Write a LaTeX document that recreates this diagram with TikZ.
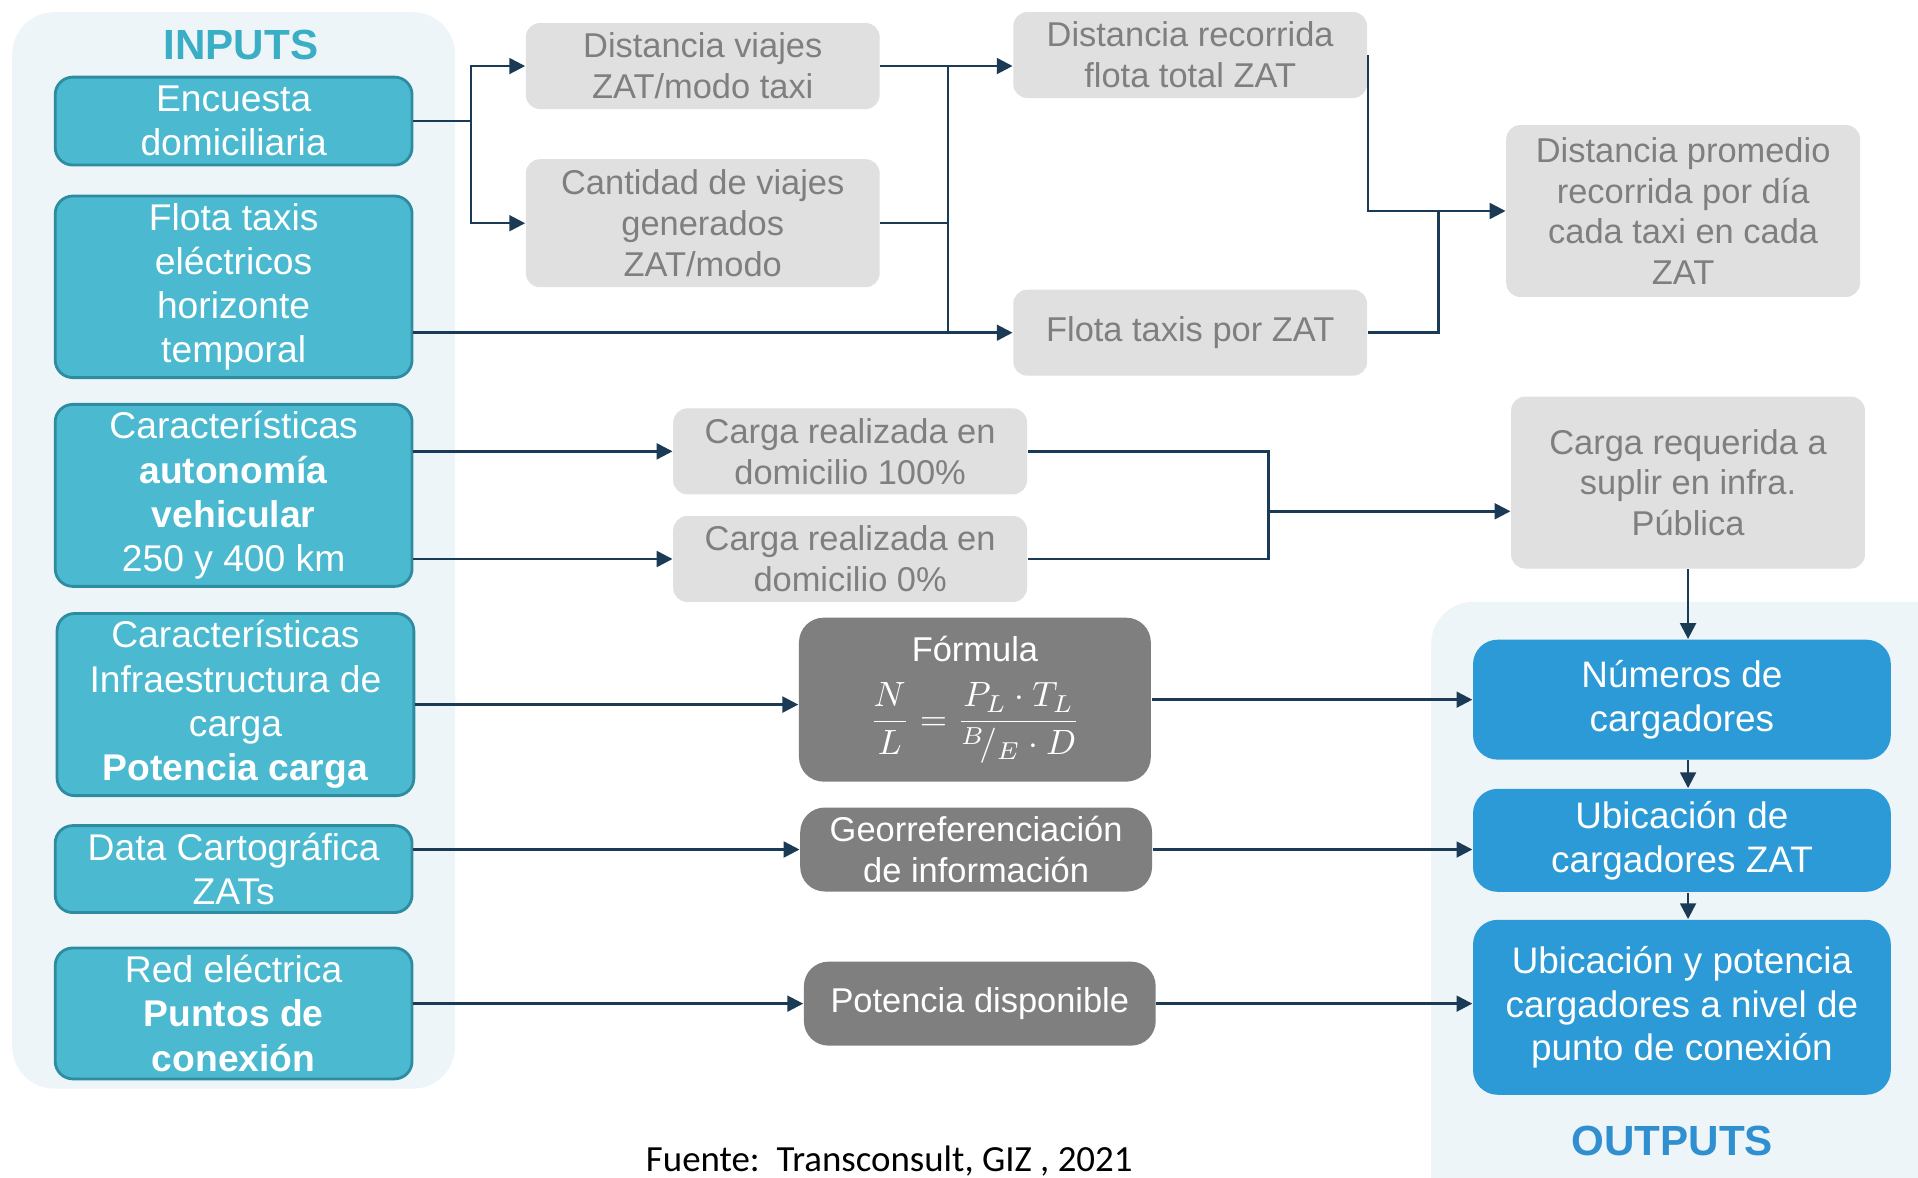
\documentclass[tikz,border=0pt]{standalone}
\usepackage{amsmath}
\usepackage{fontspec}
\setmainfont{Liberation Sans}
\newfontfamily\fuentefont{Carlito}
\usetikzlibrary{arrows.meta, positioning}
\definecolor{inputcyan}{HTML}{4BB9CF}
\definecolor{inputedge}{HTML}{2E8CA0}
\definecolor{inputtitle}{HTML}{3AAEC5}
\definecolor{outputblue}{HTML}{2B9AD6}
\definecolor{outputtitle}{HTML}{2F8FCF}
\definecolor{stepgray}{HTML}{E0E0E0}
\definecolor{steptext}{HTML}{7F7F7F}
\definecolor{calcgray}{HTML}{7F7F7F}
\definecolor{panelbg}{HTML}{EEF5F9}
\definecolor{linknavy}{HTML}{1B3A56}

\begin{document}
\begin{tikzpicture}[
	x=0.012232cm, y=-0.012232cm,
	panel/.style={fill=panelbg, rounded corners=12pt},
	paneltitle/.style={font=\bfseries\fontsize{12}{14}\selectfont},
	inbox/.style={fill=inputcyan, draw=inputedge, line width=0.8pt, rounded corners=5pt, text=white, font=\fontsize{10.6}{12.6}\selectfont, align=center, minimum width=3.57cm, inner sep=2pt},
	graybox/.style={fill=stepgray, text=steptext, rounded corners=4pt, font=\fontsize{9.8}{11.6}\selectfont, align=center, minimum width=3.54cm, inner sep=2pt},
	calcbox/.style={fill=calcgray, text=white, rounded corners=7pt, font=\fontsize{9.8}{11.8}\selectfont, align=center, minimum width=3.52cm, inner sep=2pt},
	outbox/.style={fill=outputblue, text=white, rounded corners=7pt, font=\fontsize{10.5}{12.5}\selectfont, align=center, minimum width=4.18cm, inner sep=2pt},
	arrowstyle/.style={-{Triangle[length=4.5pt, width=4.5pt]}, line width=0.7pt, linknavy},
	wire/.style={line width=0.7pt, linknavy}
]
	\useasboundingbox (0,0) rectangle (1568,963);
	\fill[white] (0,0) rectangle (1568,963);

	% --- Background panels ---
	\fill[panel] (10,10) rectangle (372,890);
	\fill[panel] (1170,492) rectangle (1600,1000);
	\node[paneltitle, text=inputtitle] (t_in) at (197,37) {INPUTS};
	\node[paneltitle, text=outputtitle] (t_out) at (1367,933) {OUTPUTS};

	% --- Inputs (left column) ---
	\node[inbox, minimum height=0.88cm] (in_enc) at (191,99) {Encuesta\\domiciliaria};
	\node[inbox, minimum height=1.75cm] (in_flota) at (191,234.5) {Flota taxis\\eléctricos\\horizonte\\temporal};
	\node[inbox, minimum height=1.76cm] (in_auto) at (191,405) {Características\\\textbf{autonomía}\\\textbf{vehicular}\\250 y 400 km};
	\node[inbox, minimum height=1.74cm] (in_infra) at (192.5,576) {Características\\Infraestructura de\\carga\\\textbf{Potencia carga}};
	\node[inbox, minimum height=0.87cm] (in_carto) at (191,710.5) {Data Cartográfica\\ZATs};
	\node[inbox, minimum height=1.31cm] (in_red) at (191,828.5) {Red eléctrica\\\textbf{Puntos de}\\\textbf{conexión}};

	% --- Intermediate steps (light gray) ---
	\node[graybox, minimum height=0.86cm] (g_dist) at (574.5,54) {Distancia viajes\\ZAT/modo taxi};
	\node[graybox, minimum height=1.28cm] (g_cant) at (574.5,182.5) {Cantidad de viajes\\generados\\ZAT/modo};
	\node[graybox, minimum height=0.86cm] (g_rec) at (973,45) {Distancia recorrida\\flota total ZAT};
	\node[graybox, minimum height=0.86cm] (g_flota) at (973,272) {Flota taxis por ZAT};
	\node[graybox, minimum height=1.72cm] (g_prom) at (1376,172.5) {Distancia promedio\\recorrida por día\\cada taxi en cada\\ZAT};
	\node[graybox, minimum height=0.86cm] (g_c100) at (695,369) {Carga realizada en\\domicilio 100\%};
	\node[graybox, minimum height=0.86cm] (g_c0) at (695,457) {Carga realizada en\\domicilio 0\%};
	\node[graybox, minimum height=1.72cm] (g_req) at (1380,394.5) {Carga requerida a\\suplir en infra.\\Pública};

	% --- Calculations (dark gray) ---
	\node[calcbox, minimum height=1.64cm] (d_form) at (797,572) {Fórmula\\[5pt]$\displaystyle\frac{N}{L}=\frac{P_L\cdot T_L}{{}^{B}\!/_{E}\cdot D}$};
	\node[calcbox, minimum height=0.84cm] (d_geo) at (798,694.5) {Georreferenciación\\de información};
	\node[calcbox, minimum height=0.84cm] (d_pot) at (801,820.5) {Potencia disponible};

	% --- Outputs (right column) ---
	\node[outbox, minimum height=1.20cm] (o_num) at (1375,572) {Números de\\cargadores};
	\node[outbox, minimum height=1.03cm] (o_ubi) at (1375,687) {Ubicación de\\cargadores ZAT};
	\node[outbox, minimum height=1.75cm] (o_pot) at (1375,823.5) {Ubicación y potencia\\cargadores a nivel de\\punto de conexión};

	% --- Source ---
	\node[font=\fuentefont\fontsize{10.5}{12}\selectfont] (fuente) at (727,949) {Fuente:\ \ Transconsult, GIZ , 2021};

	% --- Junction points ---
	\coordinate (j_enc) at (385,0);
	\coordinate (j_bus) at (775,0);
	\coordinate (j_prom) at (1176,0);
	\coordinate (j_req) at (1037,418);

	% --- Connections ---
	\draw[wire] (in_enc.east) -- (in_enc.east -| j_enc);
	\draw[arrowstyle] (in_enc.east -| j_enc) |- (g_dist.west);
	\draw[arrowstyle] (in_enc.east -| j_enc) |- (g_cant.west);

	\draw[arrowstyle] (g_dist.east) -- (g_dist.east -| g_rec.west);
	\draw[wire] (g_cant.east) -- (g_cant.east -| j_bus);
	\draw[wire] (g_dist.east -| j_bus) -- (j_bus |- g_flota.west);
	\draw[arrowstyle] (in_flota.east |- g_flota.west) -- (g_flota.west);

	\draw[arrowstyle] (g_rec.east) |- (g_prom.west);
	\draw[wire] (g_flota.east) -| (j_prom |- g_prom.west);

	\draw[arrowstyle] (in_auto.east |- g_c100.west) -- (g_c100.west);
	\draw[arrowstyle] (in_auto.east |- g_c0.west) -- (g_c0.west);
	\draw[wire] (g_c100.east) -| (j_req |- g_c0.east) -- (g_c0.east);
	\draw[arrowstyle] (j_req) -- (j_req -| g_req.west);

	\draw[arrowstyle] (in_infra.east) -- (in_infra.east -| d_form.west);
	\draw[arrowstyle] (in_carto.east |- d_geo.west) -- (d_geo.west);
	\draw[arrowstyle] (in_red.east |- d_pot.west) -- (d_pot.west);

	\draw[arrowstyle] (d_form.east) -- (d_form.east -| o_num.west);
	\draw[arrowstyle] (d_geo.east) -- (d_geo.east -| o_ubi.west);
	\draw[arrowstyle] (d_pot.east) -- (d_pot.east -| o_pot.west);

	\draw[arrowstyle] (g_req.south) -- (g_req.south |- o_num.north);
	\draw[arrowstyle] (o_num.south -| g_req.south) -- (g_req.south |- o_ubi.north);
	\draw[arrowstyle] (o_ubi.south -| g_req.south) -- (g_req.south |- o_pot.north);

\end{tikzpicture}
\end{document}
